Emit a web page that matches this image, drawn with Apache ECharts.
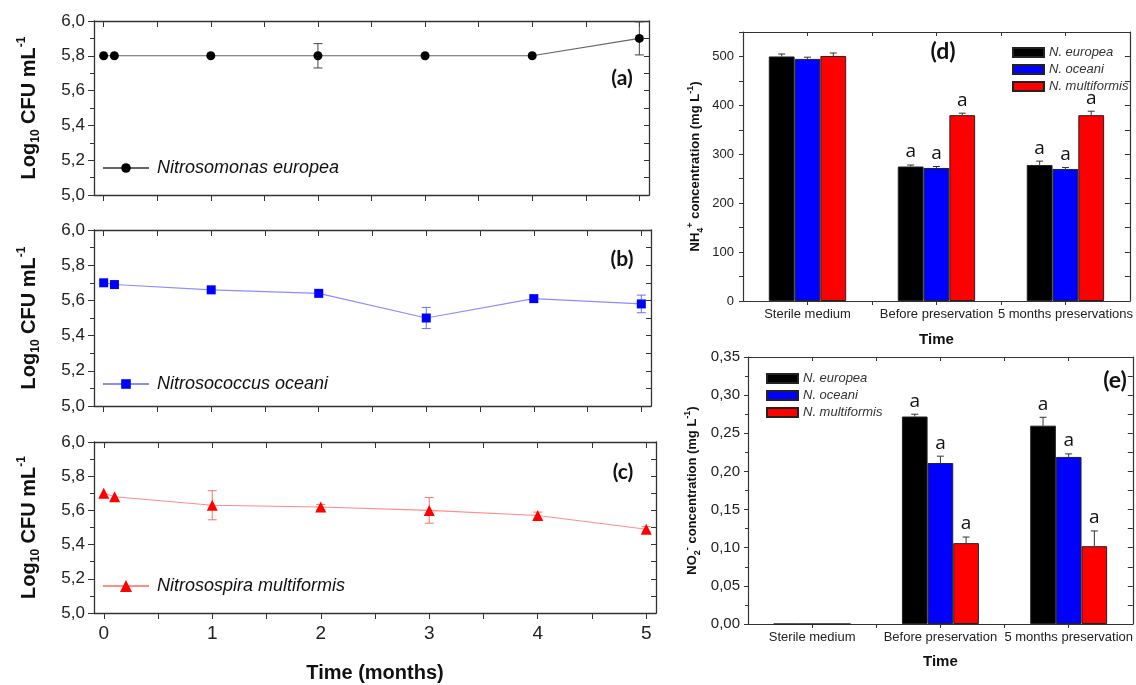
<!DOCTYPE html>
<html>
<head>
<meta charset="utf-8">
<title>Nitrifying bacteria preservation</title>
<script src="https://cdn.jsdelivr.net/npm/echarts@6/dist/echarts.min.js"></script>
<style>
html,body{margin:0;padding:0;background:#fff;}
#main{width:1136px;height:685px;}
</style>
</head>
<body>
<div id="main"></div>
<script>
// ---- data ----
var months = [0, 0.1, 1, 2, 3, 4, 5];
var europeaCfu = [5.80, 5.80, 5.80, 5.80, 5.80, 5.80, 5.90];
var europeaErr = [0, 0, 0, 0.07, 0, 0, 0.095];
var oceaniCfu = [5.70, 5.69, 5.66, 5.64, 5.50, 5.61, 5.58];
var oceaniErr = [0, 0, 0, 0, 0.06, 0, 0.05];
var multiCfu = [5.70, 5.68, 5.63, 5.62, 5.60, 5.57, 5.49];
var multiErr = [0, 0, 0.085, 0.015, 0.075, 0.02, 0.015];
var monthLabels = [0, 1, 2, 3, 4, 5];
var monthTicks = [0, 0.5, 1, 1.5, 2, 2.5, 3, 3.5, 4, 4.5, 5];

var stagesD = ['Sterile medium', 'Before preservation', '5 months preservations'];
var stagesE = ['Sterile medium', 'Before preservation', '5 months preservation'];
var stageTicks = [0, 0.5, 1, 1.5, 2];
var strainNames = ['N. europea', 'N. oceani', 'N. multiformis'];
var strainColors = ['#000000', '#0000ff', '#ff0000'];

// NH4+ (mg/L), one row per strain, one column per stage
var nh4Values = [[500, 275, 278], [495, 272, 270], [501, 380, 380]];
var nh4Err = [[5, 3, 8], [3.5, 3, 3], [6, 4, 8]];
var nh4Letters = [['', 'a', 'a'], ['', 'a', 'a'], ['', 'a', 'a']];
var nh4Labels = [0, 100, 200, 300, 400, 500];
var nh4Ticks = [0, 50, 100, 150, 200, 250, 300, 350, 400, 450, 500, 550];

// NO2- (mg/L)
var no2Values = [[0, 0.272, 0.260], [0, 0.211, 0.219], [0, 0.106, 0.102]];
var no2Err = [[0, 0.003, 0.011], [0, 0.009, 0.004], [0, 0.008, 0.020]];
var no2Letters = [['', 'a', 'a'], ['', 'a', 'a'], ['', 'a', 'a']];

var FONT = '"Liberation Sans", Arial, sans-serif';
var AXIS = '#333';

var myChart = echarts.init(document.getElementById('main'));

function comma(v, d) { return v.toFixed(d).replace('.', ','); }

var grids = [
    {left: 94, top: 21, width: 555, height: 174},
    {left: 94, top: 230, width: 557, height: 176},
    {left: 94, top: 442, width: 562, height: 171},
    {left: 743, top: 32, width: 397, height: 269},
    {left: 748, top: 357, width: 392, height: 267}
];

var xAxes = [], yAxes = [];

// left column: time axes
for (var g = 0; g < 3; g++) {
    var last = g === 2;
    xAxes.push({
        type: 'value', gridIndex: g, position: 'bottom', min: -0.09, max: 5.09,
        axisLine: {onZero: false, lineStyle: {color: AXIS, width: 1.3}},
        axisTick: {customValues: monthTicks, length: 6, lineStyle: {color: AXIS}},
        axisLabel: {show: last, customValues: monthLabels, fontSize: 19, margin: 11, color: '#222', fontFamily: FONT},
        splitLine: {show: false},
        name: last ? 'Time (months)' : '', nameLocation: 'middle', nameGap: 50,
        nameTextStyle: {fontSize: 20, fontWeight: 'bold', color: '#111', fontFamily: FONT}
    });
    xAxes.push({
        type: 'value', gridIndex: g, position: 'top', min: -0.09, max: 5.09,
        axisLine: {onZero: false, lineStyle: {color: AXIS, width: 1.3}},
        axisTick: {customValues: monthTicks, inside: true, length: 6, lineStyle: {color: AXIS}},
        axisLabel: {show: false}, splitLine: {show: false}
    });
    yAxes.push({
        type: 'value', gridIndex: g, position: 'left', min: 5, max: 6, interval: 0.2,
        axisLine: {show: true, onZero: false, lineStyle: {color: AXIS, width: 1.3}},
        axisTick: {show: true, length: 6, lineStyle: {color: AXIS}},
        minorTick: {show: true, splitNumber: 2, length: 4, lineStyle: {color: AXIS}},
        axisLabel: {fontSize: 17, margin: 9, color: '#222', fontFamily: FONT,
            formatter: function (v) { return comma(v, 1); }},
        splitLine: {show: false},
        name: '{b|Log}{sub|10}{b| CFU mL}{sup|-1}', nameLocation: 'middle', nameRotate: 90, nameGap: 52,
        nameTextStyle: {
            fontFamily: FONT, color: '#111',
            rich: {
                b: {fontSize: 20, fontWeight: 'bold', lineHeight: 26, fontFamily: FONT, color: '#111'},
                sub: {fontSize: 12, fontWeight: 'bold', lineHeight: 12, verticalAlign: 'bottom', fontFamily: FONT, color: '#111'},
                sup: {fontSize: 12, fontWeight: 'bold', lineHeight: 12, verticalAlign: 'top', fontFamily: FONT, color: '#111'}
            }
        }
    });
    yAxes.push({
        type: 'value', gridIndex: g, position: 'right', min: 5, max: 6, interval: 0.2,
        axisLine: {show: true, onZero: false, lineStyle: {color: AXIS, width: 1.3}},
        axisTick: {show: true, inside: true, length: 5, lineStyle: {color: AXIS}},
        minorTick: {show: true, splitNumber: 2, length: 5, lineStyle: {color: AXIS}},
        axisLabel: {show: false}, splitLine: {show: false}
    });
}

// right column: stage axes
function stageAxes(g, names, labelMargin, nameGap) {
    xAxes.push({
        type: 'value', gridIndex: g, position: 'bottom', min: -0.5, max: 2.5,
        axisLine: {onZero: false, lineStyle: {color: AXIS, width: 1.2}},
        axisTick: {customValues: stageTicks, length: 4, lineStyle: {color: AXIS}},
        axisLabel: {customValues: [0, 1, 2], fontSize: 13, margin: labelMargin, color: '#222', fontFamily: FONT,
            formatter: function (v) { return names[Math.round(v)]; }},
        splitLine: {show: false},
        name: 'Time', nameLocation: 'middle', nameGap: nameGap,
        nameTextStyle: {fontSize: 15, fontWeight: 'bold', color: '#111', fontFamily: FONT}
    });
    xAxes.push({
        type: 'value', gridIndex: g, position: 'top', min: -0.5, max: 2.5,
        axisLine: {onZero: false, lineStyle: {color: AXIS, width: 1.2}},
        axisTick: {customValues: stageTicks, inside: true, length: 4, lineStyle: {color: AXIS}},
        axisLabel: {show: false}, splitLine: {show: false}
    });
}
stageAxes(3, stagesD, 7, 31);
stageAxes(4, stagesE, 7, 30);

var smallRich = function (size) {
    return {
        b: {fontSize: size, fontWeight: 'bold', lineHeight: size + 6, fontFamily: FONT, color: '#111'},
        sub: {fontSize: 9, fontWeight: 'bold', lineHeight: 9, verticalAlign: 'bottom', fontFamily: FONT, color: '#111'},
        sup: {fontSize: 9, fontWeight: 'bold', lineHeight: 9, verticalAlign: 'top', fontFamily: FONT, color: '#111'}
    };
};

yAxes.push({
    type: 'value', gridIndex: 3, position: 'left', min: 0, max: 550,
    axisLine: {show: true, onZero: false, lineStyle: {color: AXIS, width: 1.2}},
    axisTick: {show: true, customValues: nh4Ticks, length: 4, lineStyle: {color: AXIS}},
    axisLabel: {customValues: nh4Labels, fontSize: 13, margin: 9, color: '#222', fontFamily: FONT},
    splitLine: {show: false},
    name: '{b|NH}{sub|4}{sup|+}{b| concentration (mg L}{sup|-1}{b|)}', nameLocation: 'middle', nameRotate: 90, nameGap: 38,
    nameTextStyle: {rich: smallRich(13)}
});
yAxes.push({
    type: 'value', gridIndex: 3, position: 'right', min: 0, max: 550,
    axisLine: {show: true, onZero: false, lineStyle: {color: AXIS, width: 1.2}},
    axisTick: {show: true, inside: true, customValues: nh4Ticks, length: 5, lineStyle: {color: AXIS}},
    axisLabel: {show: false}, splitLine: {show: false}
});
yAxes.push({
    type: 'value', gridIndex: 4, position: 'left', min: 0, max: 0.35, interval: 0.05,
    axisLine: {show: true, onZero: false, lineStyle: {color: AXIS, width: 1.2}},
    axisTick: {show: true, length: 4, lineStyle: {color: AXIS}},
    minorTick: {show: true, splitNumber: 2, length: 3, lineStyle: {color: AXIS}},
    axisLabel: {fontSize: 15, margin: 8, color: '#222', fontFamily: FONT,
        formatter: function (v) { return comma(v, 2); }},
    splitLine: {show: false},
    name: '{b|NO}{sub|2}{sup|-}{b| concentration (mg L}{sup|-1}{b|)}', nameLocation: 'middle', nameRotate: 90, nameGap: 46,
    nameTextStyle: {rich: smallRich(13)}
});
yAxes.push({
    type: 'value', gridIndex: 4, position: 'right', min: 0, max: 0.35, interval: 0.05,
    axisLine: {show: true, onZero: false, lineStyle: {color: AXIS, width: 1.2}},
    axisTick: {show: true, inside: true, length: 5, lineStyle: {color: AXIS}},
    minorTick: {show: true, splitNumber: 2, length: 5, lineStyle: {color: AXIS}},
    axisLabel: {show: false}, splitLine: {show: false}
});

// error bars for the time curves
function lineErrorRender(color) {
    return function (params, api) {
        var x = api.value(0), y = api.value(1), e = api.value(2);
        if (!e) return {type: 'group', children: []};
        var hi = api.coord([x, y + e]);
        var lo = api.coord([x, y - e]);
        var cap = 4.5;
        var st = {stroke: color, lineWidth: 1};
        return {type: 'group', children: [
            {type: 'line', shape: {x1: hi[0], y1: hi[1], x2: lo[0], y2: lo[1]}, style: st},
            {type: 'line', shape: {x1: hi[0] - cap, y1: hi[1], x2: hi[0] + cap, y2: hi[1]}, style: st},
            {type: 'line', shape: {x1: lo[0] - cap, y1: lo[1], x2: lo[0] + cap, y2: lo[1]}, style: st}
        ]};
    };
}

// error bars + letters for the grouped bars
function barErrorRender(slot, letters) {
    return function (params, api) {
        var idx = api.value(0), v = api.value(1), e = api.value(2);
        var band = api.size([1, 0])[0];
        var top = api.coord([idx, v]);
        var hi = api.coord([idx, v + e]);
        var x = top[0] + (slot - 1) * band * 0.2;
        var kids = [];
        var st = {stroke: '#333', lineWidth: 1};
        if (e) {
            kids.push({type: 'line', shape: {x1: x, y1: top[1], x2: x, y2: hi[1]}, style: st});
            kids.push({type: 'line', shape: {x1: x - 3.5, y1: hi[1], x2: x + 3.5, y2: hi[1]}, style: st});
        }
        var t = letters[params.dataIndex];
        if (t) {
            kids.push({type: 'text', x: x, y: hi[1] - 13,
                style: {text: t, align: 'center', verticalAlign: 'middle', fontSize: 19, fontFamily: '"Open Sans", sans-serif', fill: '#111'}});
        }
        return {type: 'group', children: kids};
    };
}

function pairs(xs, ys, es) {
    return xs.map(function (x, i) { return es ? [x, ys[i], es[i]] : [x, ys[i]]; });
}

var lineSets = [
    {name: 'Nitrosomonas europea', y: europeaCfu, e: europeaErr, symbol: 'circle', size: 9, mark: '#000', line: '#666', err: '#444'},
    {name: 'Nitrosococcus oceani', y: oceaniCfu, e: oceaniErr, symbol: 'rect', size: 9, mark: '#0000ff', line: '#8c8cff', err: '#6f6fff'},
    {name: 'Nitrosospira multiformis', y: multiCfu, e: multiErr, symbol: 'triangle', size: 11, mark: '#ff0000', line: '#ff8c8c', err: '#ff7070'}
];

var series = [];
lineSets.forEach(function (s, g) {
    series.push({
        type: 'custom', name: 'err' + g, xAxisIndex: 2 * g, yAxisIndex: 2 * g,
        renderItem: lineErrorRender(s.err), data: pairs(months, s.y, s.e), z: 1, silent: true
    });
    series.push({
        type: 'line', name: s.name, xAxisIndex: 2 * g, yAxisIndex: 2 * g,
        data: pairs(months, s.y), symbol: s.symbol, symbolSize: s.size,
        itemStyle: {color: s.mark}, lineStyle: {color: s.line, width: 1.1}, z: 3
    });
});

function addBars(g, values, errs, letters) {
    strainNames.forEach(function (name, i) {
        var idx = values[i].map(function (v, j) { return j; });
        series.push({
            type: 'bar', name: name, xAxisIndex: 2 * g, yAxisIndex: 2 * g,
            data: pairs(idx, values[i]), barGap: '0%', barCategoryGap: '40%',
            itemStyle: {color: strainColors[i], borderColor: '#222', borderWidth: 1}
        });
    });
    strainNames.forEach(function (name, i) {
        var idx = values[i].map(function (v, j) { return j; });
        series.push({
            type: 'custom', name: 'barerr' + g + i, xAxisIndex: 2 * g, yAxisIndex: 2 * g,
            renderItem: barErrorRender(i, letters[i]), data: pairs(idx, values[i], errs[i]), z: 4, silent: true
        });
    });
}
addBars(3, nh4Values, nh4Err, nh4Letters);
addBars(4, no2Values, no2Err, no2Letters);

var lineLegend = function (name, top, h) {
    return {
        data: [name], left: 102, top: top, orient: 'vertical', padding: 0,
        itemWidth: 46, itemHeight: h, selectedMode: false,
        textStyle: {fontSize: 18, fontStyle: 'italic', color: '#111', fontFamily: FONT, padding: [0, 0, 0, 3]}
    };
};
var barLegend = function (left, top) {
    return {
        data: strainNames, left: left, top: top, orient: 'vertical', padding: 0,
        itemWidth: 31, itemHeight: 9, itemGap: 2, selectedMode: false, icon: 'rect',
        textStyle: {fontSize: 13, fontStyle: 'italic', color: '#333', fontFamily: FONT, lineHeight: 15}
    };
};

var panelTag = function (text, x, y, size) {
    return {type: 'text', x: x, y: y,
        style: {text: text, align: 'center', verticalAlign: 'middle', fontSize: size, fontWeight: 'bold', fontFamily: 'Lato, "Open Sans", sans-serif', fill: '#111'}};
};

var option = {
    backgroundColor: '#fff',
    animation: false,
    grid: grids,
    xAxis: xAxes,
    yAxis: yAxes,
    legend: [
        lineLegend('Nitrosomonas europea', 159, 12),
        lineLegend('Nitrosococcus oceani', 375, 12),
        lineLegend('Nitrosospira multiformis', 577, 15),
        barLegend(1012, 45),
        barLegend(766, 371)
    ],
    graphic: [
        panelTag('(a)', 622, 78, 21),
        panelTag('(b)', 622, 259, 21),
        panelTag('(c)', 623, 472, 21),
        panelTag('(d)', 943, 52, 23),
        panelTag('(e)', 1115, 381, 23)
    ],
    series: series
};

myChart.setOption(option);
</script>
</body>
</html>
